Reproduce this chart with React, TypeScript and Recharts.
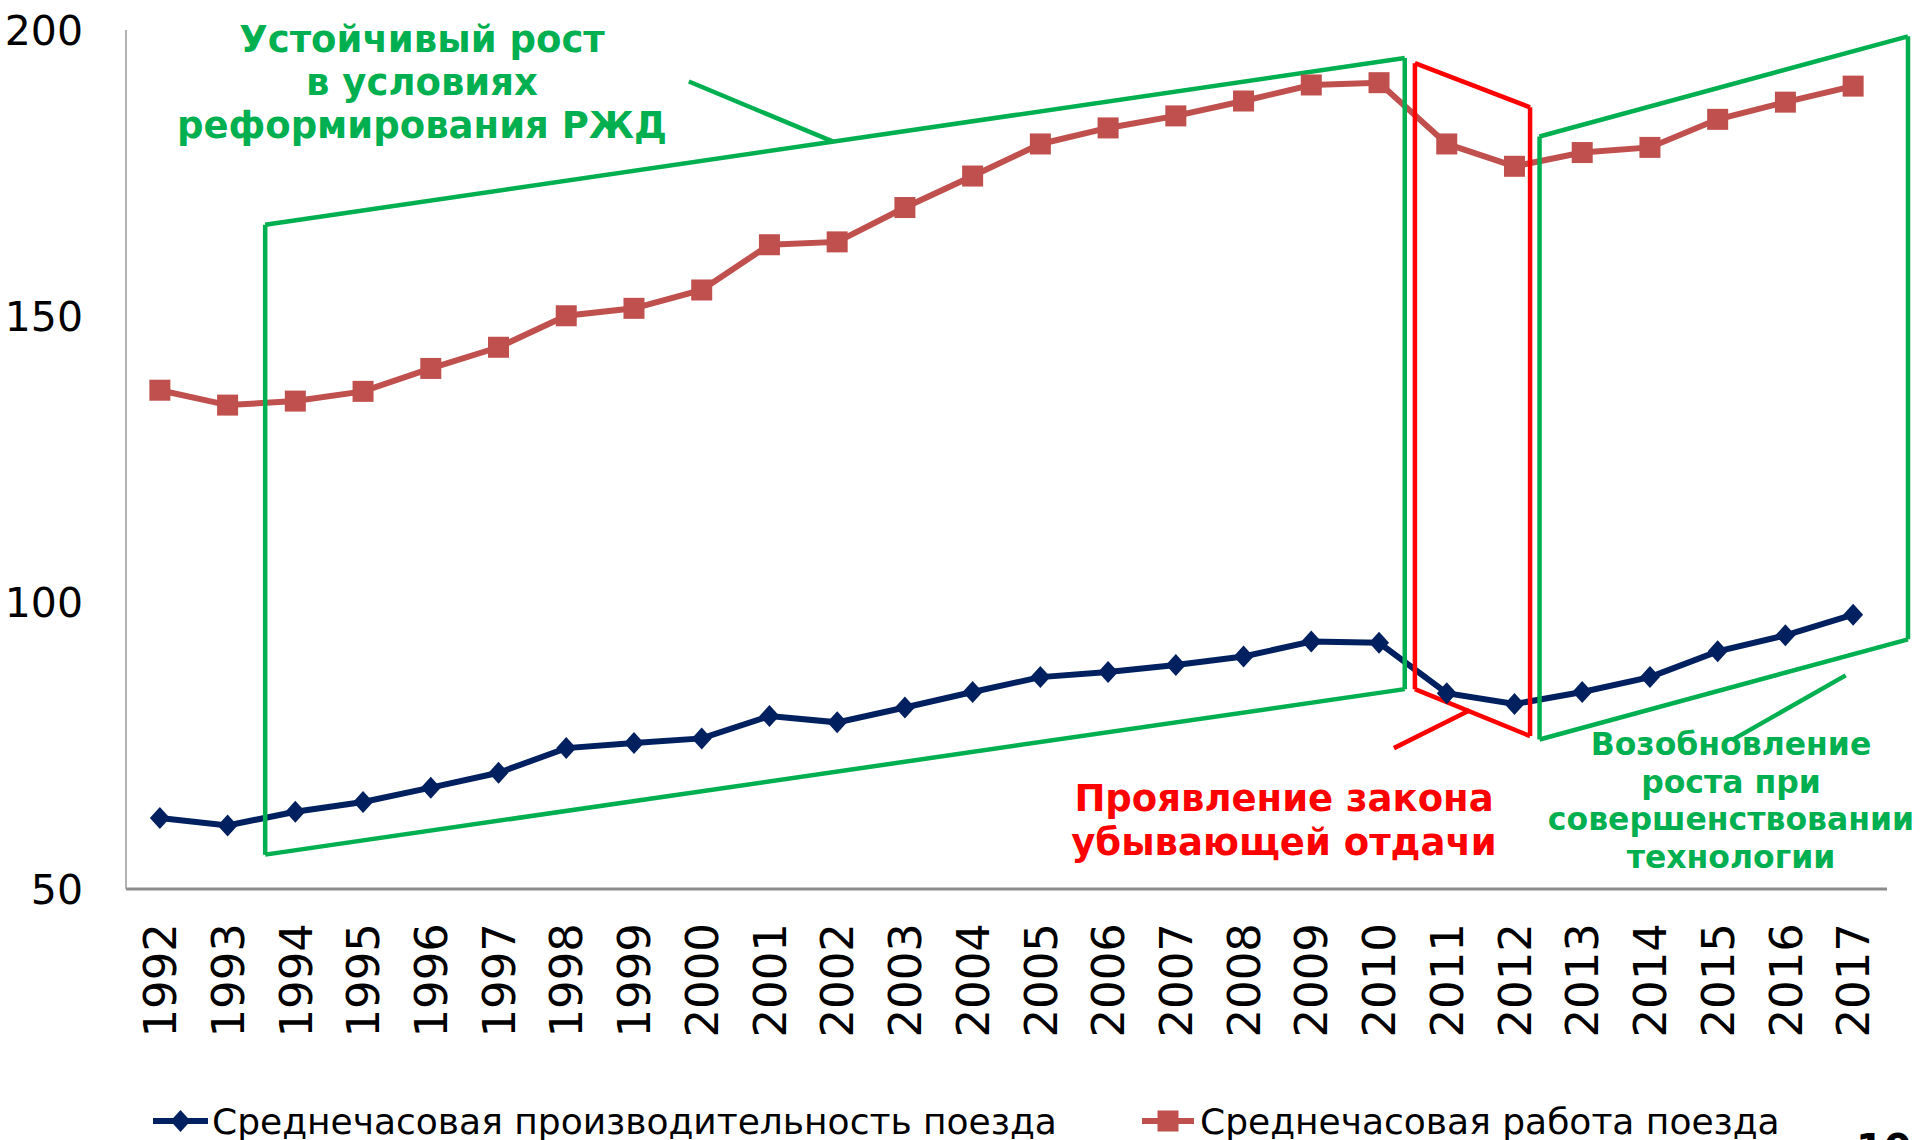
import React from "react";
import { LineChart, Line, XAxis, YAxis, ReferenceLine, Customized } from "recharts";

const years = [
  "1992", "1993", "1994", "1995", "1996", "1997", "1998", "1999", "2000", "2001", "2002", "2003", "2004",
  "2005", "2006", "2007", "2008", "2009", "2010", "2011", "2012", "2013", "2014", "2015", "2016", "2017",
];

// Среднечасовая производительность поезда
const productivity = [
  62.4, 61.1, 63.5, 65.2, 67.7, 70.3, 74.6, 75.5, 76.3, 80.2, 79.1, 81.7, 84.4,
  87.0, 87.9, 89.1, 90.6, 93.2, 93.0, 84.2, 82.3, 84.4, 87.0, 91.5, 94.3, 97.9,
];

// Среднечасовая работа поезда
const work = [
  137.1, 134.5, 135.2, 136.9, 140.9, 144.6, 150.1, 151.4, 154.6, 162.5, 163.0, 169.0, 174.5,
  180.1, 182.9, 185.0, 187.6, 190.4, 190.8, 180.1, 176.2, 178.6, 179.5, 184.4, 187.4, 190.2,
];

const yTicks = [50, 100, 150, 200];
const xTicks = years.map((_, i) => i);

// annotation outlines, as [year index, value]
const stableBox = [[1.555, 166.0], [18.38, 195.1], [18.38, 84.9], [1.555, 56.0], [1.555, 166.0]];
const stablePointer = [[7.81, 191.0], [9.94, 180.5]];
const declineBox = [[18.53, 84.9], [18.53, 194.2], [20.23, 186.5], [20.23, 76.7], [18.53, 84.9]];
const declinePointer = [[18.22, 74.6], [19.34, 81.2]];
const recoveryBox = [[20.37, 76.1], [20.37, 181.4], [25.81, 198.9], [25.81, 93.6], [20.37, 76.1]];
const recoveryPointer = [[23.21, 76.0], [24.89, 87.3]];

const stableText = ["Устойчивый рост", "в условиях", "реформирования РЖД"];
const declineText = ["Проявление закона", "убывающей отдачи"];
const recoveryText = ["Возобновление", "роста при", "совершенствовании", "технологии"];

const legendNames = ["Среднечасовая производительность поезда", "Среднечасовая работа поезда"];

const data = years.map((year, i) => ({ idx: i, year, productivity: productivity[i], work: work[i] }));

const GREEN = "#00B050";
const RED = "#FF0000";
const NAVY = "#002060";
const BRICK = "#C0504D";
const FONT = "'DejaVu Sans', Verdana, sans-serif";

const Diamond = (props: any) => {
  const { cx, cy } = props;
  if (cx == null || cy == null) return null;
  return <polygon points={`${cx},${cy - 11} ${cx + 10},${cy} ${cx},${cy + 11} ${cx - 10},${cy}`} fill={NAVY} />;
};

const Square = (props: any) => {
  const { cx, cy } = props;
  if (cx == null || cy == null) return null;
  return <rect x={cx - 10.5} y={cy - 10.5} width={21} height={21} fill={BRICK} />;
};

const YearTick = (props: any) => {
  const { x, y, payload } = props;
  return (
    <text transform={`translate(${x},${y}) rotate(-90)`} textAnchor="end" dy="0.36em"
      fontSize={45} fontFamily={FONT} fill="#000">
      {years[payload.value]}
    </text>
  );
};

const ValueTick = (props: any) => {
  const { x, y, payload } = props;
  return (
    <text x={x} y={y} textAnchor="end" dy="0.36em" fontSize={41} fontFamily={FONT} fill="#000">
      {payload.value}
    </text>
  );
};

function segments(points: number[][], color: string, key: string) {
  const out = [];
  for (let i = 0; i < points.length - 1; i++) {
    out.push(
      <ReferenceLine
        key={`${key}-${i}`}
        segment={[{ x: points[i][0], y: points[i][1] }, { x: points[i + 1][0], y: points[i + 1][1] }]}
        stroke={color}
        strokeWidth={4.5}
        ifOverflow="visible"
      />
    );
  }
  return out;
}

const TextBlock = ({ lines, x, y, step, size, color }: any) => (
  <text textAnchor="middle" fontSize={size} fontWeight="bold" fontFamily={FONT} fill={color}>
    {lines.map((l: string, i: number) => (
      <tspan key={i} x={x} y={y + i * step}>{l}</tspan>
    ))}
  </text>
);

const Overlay = () => (
  <g>
    <TextBlock lines={stableText} x={422} y={52} step={43} size={37} color={GREEN} />
    <TextBlock lines={declineText} x={1284} y={811} step={44} size={37} color={RED} />
    <TextBlock lines={recoveryText} x={1731} y={755} step={37.7} size={31.5} color={GREEN} />

    {/* legend */}
    <line x1={153} y1={1121} x2={208} y2={1121} stroke={NAVY} strokeWidth={6} />
    <Diamond cx={180.5} cy={1121} />
    <text x={212} y={1134} fontSize={36} fontFamily={FONT} fill="#000">{legendNames[0]}</text>
    <line x1={1142} y1={1121} x2={1194} y2={1121} stroke={BRICK} strokeWidth={6} />
    <Square cx={1168} cy={1121} />
    <text x={1200} y={1134} fontSize={36} fontFamily={FONT} fill="#000">{legendNames[1]}</text>

    <text x={1856} y={1163} fontSize={40} fontWeight="bold" fontFamily={FONT} fill="#000">10</text>
  </g>
);

export default function App() {
  return (
    <div style={{ position: "absolute", left: 0, top: 0, width: 1920, height: 1140, background: "#fff" }}>
      <LineChart width={1920} height={1140} data={data} margin={{ top: 30, right: 33, bottom: 0, left: 0 }}>
        <XAxis
          dataKey="idx"
          type="number"
          domain={[-0.5, 25.5]}
          allowDataOverflow
          ticks={xTicks}
          interval={0}
          height={251}
          tickLine={false}
          tickSize={0}
          tickMargin={34}
          axisLine={{ stroke: "#8C8C8C", strokeWidth: 3 }}
          tick={<YearTick />}
        />
        <YAxis
          width={126}
          domain={[50, 200]}
          ticks={yTicks}
          interval={0}
          tickLine={false}
          tickSize={0}
          tickMargin={43}
          axisLine={{ stroke: "#9A9A9A", strokeWidth: 1.5 }}
          tick={<ValueTick />}
        />
        <Line
          dataKey="work"
          stroke={BRICK}
          strokeWidth={6}
          dot={<Square />}
          activeDot={false}
          isAnimationActive={false}
        />
        <Line
          dataKey="productivity"
          stroke={NAVY}
          strokeWidth={6}
          dot={<Diamond />}
          activeDot={false}
          isAnimationActive={false}
        />
        {segments(stableBox, GREEN, "sb")}
        {segments(stablePointer, GREEN, "sp")}
        {segments(declineBox, RED, "db")}
        {segments(declinePointer, RED, "dp")}
        {segments(recoveryBox, GREEN, "rb")}
        {segments(recoveryPointer, GREEN, "rp")}
        <Customized component={<Overlay />} />
      </LineChart>
    </div>
  );
}
